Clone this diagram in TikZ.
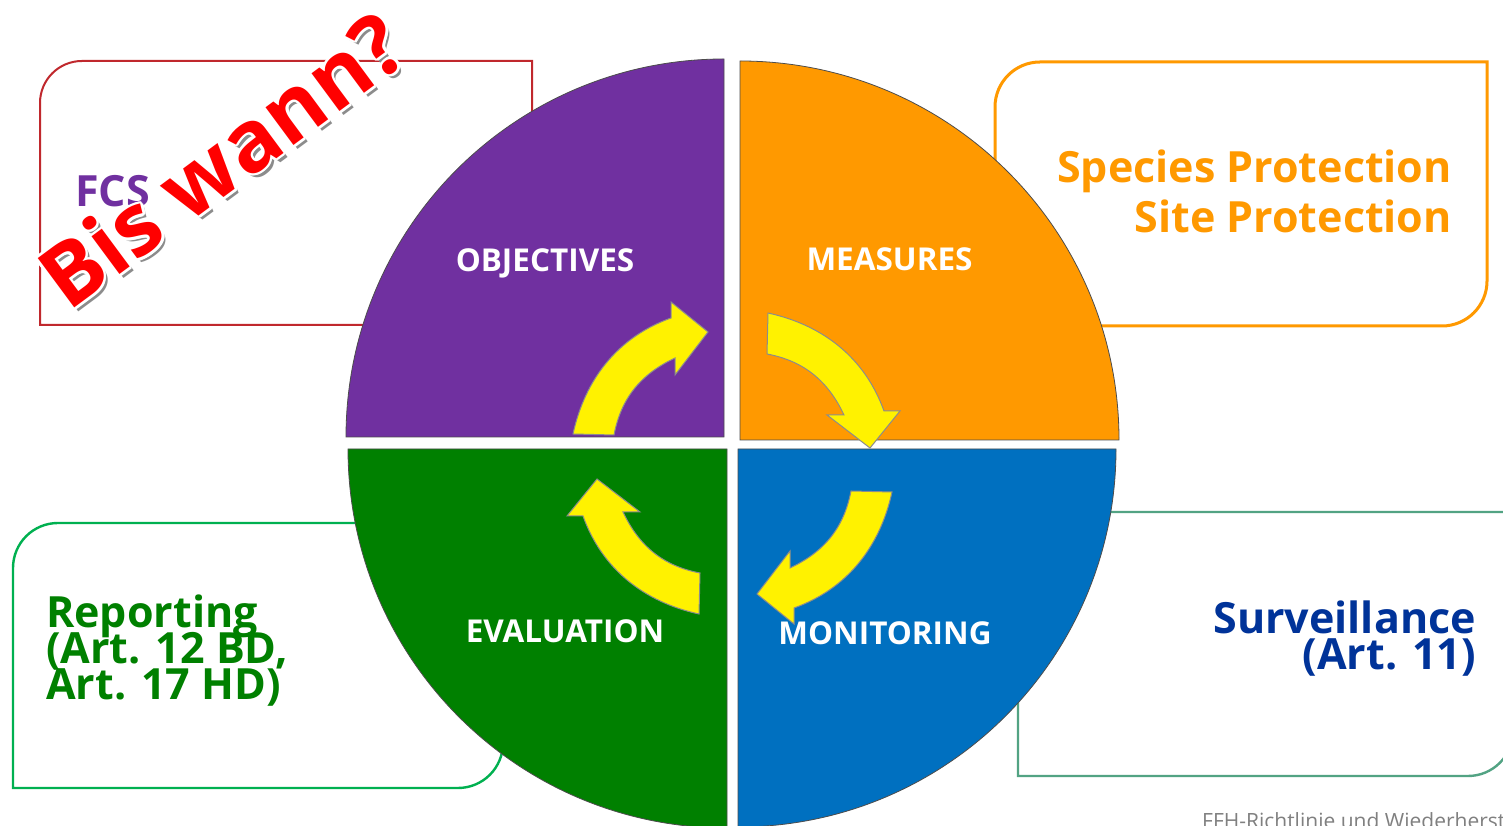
\documentclass[tikz,border=0pt]{standalone}
\usepackage{fontspec}
\setmainfont{Open Sans}
\usepackage[copies]{contour}
\usetikzlibrary{positioning}
\definecolor{objpurple}{HTML}{7030A0}
\definecolor{measorange}{HTML}{FF9900}
\definecolor{evalgreen}{HTML}{008000}
\definecolor{monblue}{HTML}{0070C0}
\definecolor{fcsred}{HTML}{C0282D}
\definecolor{repgreen}{HTML}{00B050}
\definecolor{survteal}{HTML}{52A383}
\definecolor{survblue}{HTML}{003399}
\contourlength{2.4pt}
\begin{document}
\begin{tikzpicture}[x=1pt,y=1pt,quarter/.style={draw=black!70,line width=0.8pt},box/.style={line width=2.4pt,fill=white},label node/.style={font=\fontsize{31.5}{36}\selectfont\bfseries,text=white,inner sep=0pt,anchor=base},text node/.style={font=\fontsize{43}{50}\selectfont\bfseries,inner sep=0pt},bis node/.style={font=\fontsize{86}{96}\selectfont\bfseries,inner sep=0pt,anchor=base west,rotate=36.5},cycle arrow/.pic={\draw[fill=yellow,draw=black!45,line width=1pt] (-127,6) .. controls (-115,61) and (-82,103) .. (-29,122) -- (-29,138) -- (8,108) -- (-25,65) -- (-25,82) .. controls (-59,66) and (-79,42) .. (-86,5) -- cycle;}]
\useasboundingbox (0,0) rectangle (1503,826);
\clip (0,0) rectangle (1503,826);
\fill[white] (0,0) rectangle (1503,826);
% boxes behind the circle
\draw[box,draw=fcsred,line width=2pt] (532,501) -- (40,501) -- (40,723) arc[start angle=180,end angle=90,radius=42] -- (532,765) -- cycle;%FCS
\draw[box,draw=measorange,line width=3pt] (995,500) -- (995,719) arc[start angle=180,end angle=90,radius=45] -- (1487,764) -- (1487,545) arc[start angle=0,end angle=-90,radius=45] -- cycle;%protection
\draw[box,draw=repgreen] (13,38) -- (13,258) arc[start angle=180,end angle=90,radius=45] -- (503,303) -- (503,83) arc[start angle=0,end angle=-90,radius=45] -- cycle;%reporting
\draw[box,draw=survteal] (1018,50) -- (1018,314) -- (1513,314) -- (1513,95) arc[start angle=0,end angle=-90,radius=45] -- cycle;%surveillance
\begin{scope}[every node/.style={text node}]
\node[text=objpurple,anchor=base west] (fcs) at (75,619) {FCS};
\node[text=measorange,anchor=base east] (species) at (1452,643) {Species Protection};
\node[text=measorange,anchor=base east] (site) at (1452,593) {Site Protection};
\node[text=evalgreen,anchor=base west] (rep1) at (46,198) {Reporting};
\node[text=evalgreen,anchor=base west] (rep2) at (46,162) {(Art. 12 BD,};
\node[text=evalgreen,anchor=base west] (rep3) at (46,126) {Art. 17 HD)};
\node[text=survblue,anchor=base east] (surv1) at (1476,192) {Surveillance};
\node[text=survblue,anchor=base east] (surv2) at (1476,156) {(Art. 11)};
\end{scope}
% four quarters
\draw[quarter,fill=objpurple] (724,389) -- (724,767) arc[start angle=90,end angle=180,radius=378] -- cycle;
\draw[quarter,fill=measorange] (740,386) -- (1119,386) arc[start angle=0,end angle=90,radius=379] -- cycle;
\draw[quarter,fill=evalgreen] (727,377) -- (348,377) arc[start angle=180,end angle=270,radius=379] -- cycle;
\draw[quarter,fill=monblue] (738,377) -- (738,-1) arc[start angle=270,end angle=360,radius=378] -- cycle;
% arrows
\pic at (700,386) {cycle arrow};%1
\pic[rotate=-90] at (762,386) {cycle arrow};%2
\pic[rotate=-180] at (765,340) {cycle arrow};%3
\pic[rotate=90] at (705,339) {cycle arrow};%4
\begin{scope}[every node/.style={label node}]
\node (objectives) at (545,554) {OBJECTIVES};
\node (measures) at (889.5,555) {MEASURES};
\node (evaluation) at (565,183) {EVALUATION};
\node (monitoring) at (885,181) {MONITORING};
\end{scope}
\node[bis node,text=black!45] (bisshadow) at (72,509) {Bis wann?};
\node[bis node,text=red] (biswann) at (68,513) {\contour{white}{Bis wann?}};
\node[font=\fontsize{21}{24}\selectfont,text=black!50,anchor=base west,inner sep=0pt] (footer) at (1202,-3) {FFH-Richtlinie und Wiederherstellung};
\end{tikzpicture}
\end{document}
